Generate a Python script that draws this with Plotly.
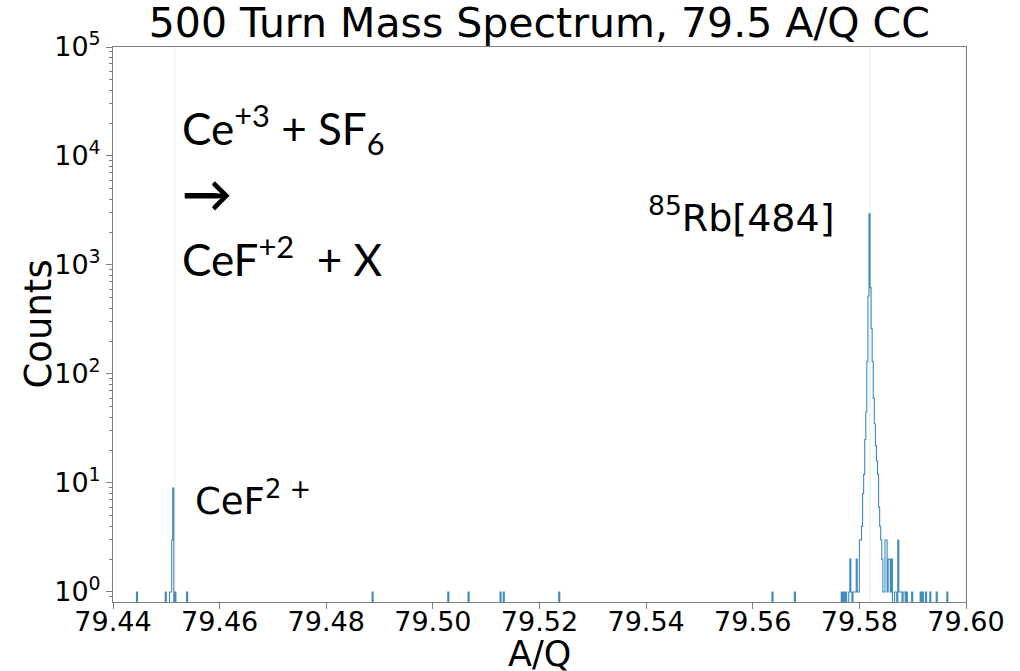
import numpy as np
import plotly.graph_objects as go

# Histogram binning (A/Q)
bin_lo = 79.44
bin_hi = 79.60
bin_width = 0.0002

# Non-empty bins: bin centre (A/Q) and counts
bin_centers = [
    79.4445, 79.4499, 79.4507, 79.4509, 79.4511, 79.4513, 79.4517, 79.4539,
    79.4887, 79.5029, 79.5067, 79.5127, 79.5133, 79.5237, 79.5637, 79.5679,
    79.5767, 79.5771, 79.5775, 79.5781, 79.5783, 79.5785, 79.5789, 79.5791,
    79.5793, 79.5795, 79.5797, 79.5799, 79.5801, 79.5803, 79.5805, 79.5807,
    79.5809, 79.5811, 79.5813, 79.5815, 79.5817, 79.5819, 79.5821, 79.5823,
    79.5825, 79.5827, 79.5829, 79.5831, 79.5833, 79.5835, 79.5837, 79.5839,
    79.5841, 79.5843, 79.5845, 79.5847, 79.5849, 79.5851, 79.5853, 79.5855,
    79.5857, 79.5859, 79.5861, 79.5867, 79.5869, 79.5873, 79.5875, 79.5877,
    79.5879, 79.5883, 79.5885, 79.5889, 79.5899, 79.5915, 79.5919, 79.5925,
    79.5933, 79.5945, 79.5965,
]
bin_counts = [
    1, 1, 1, 1, 3, 9, 1, 1,
    1, 1, 1, 1, 1, 1, 1, 1,
    1, 1, 1, 1, 2, 1, 1, 1,
    1, 2, 1, 1, 3, 3, 4, 8,
    12, 25, 45, 130, 520, 2950, 620, 260,
    130, 60, 35, 22, 16, 12, 6, 4,
    3, 2, 1, 1, 3, 3, 1, 2,
    2, 1, 2, 1, 1, 3, 1, 1,
    1, 1, 1, 1, 1, 1, 1, 1,
    1, 1, 1,
]

# Reference positions
cef_line = 79.4516
rb_line = 79.5820

y_tick_vals = [1, 10, 100, 1000, 10000, 100000]
y_tick_text = ["10<sup>0</sup>", "10<sup>1</sup>", "10<sup>2</sup>",
               "10<sup>3</sup>", "10<sup>4</sup>", "10<sup>5</sup>"]
x_tick_vals = [79.44, 79.46, 79.48, 79.50, 79.52, 79.54, 79.56, 79.58, 79.60]
x_tick_text = ["79.44", "79.46", "79.48", "79.50", "79.52", "79.54",
               "79.56", "79.58", "79.60"]

# Build full histogram (empty bins drop below the log axis floor)
n_bins = int(round((bin_hi - bin_lo) / bin_width))
edges = bin_lo + bin_width * np.arange(n_bins + 1)
counts = np.zeros(n_bins)
for c, n in zip(bin_centers, bin_counts):
    idx = int(np.floor((c - bin_lo) / bin_width))
    counts[idx] = n
step_y = np.where(counts > 0, counts, 1e-2)
step_y = np.append(step_y, step_y[-1])

minor_vals = [m * 10 ** e for e in range(-1, 5) for m in range(2, 10)]

FONT = "DejaVu Sans"
W, H = 1020, 671
L, R, T, B = 113, 54, 47, 69
fig = go.Figure()
fig.add_trace(go.Scatter(
    x=edges, y=step_y, mode="lines", line=dict(color="#1f77b4", width=1.1, shape="hv"),
    opacity=0.85, showlegend=False, hoverinfo="skip",
))

fig.add_shape(type="line", xref="x", yref="paper", x0=cef_line, x1=cef_line, y0=0, y1=1,
              line=dict(color="rgba(255,127,14,0.15)", width=1.2))
fig.add_shape(type="line", xref="x", yref="paper", x0=rb_line, x1=rb_line, y0=0, y1=1,
              line=dict(color="rgba(44,160,44,0.15)", width=1.2))

fig.update_layout(
    width=W, height=H,
    margin=dict(l=L, r=R, t=T, b=B, autoexpand=False),
    paper_bgcolor="white", plot_bgcolor="white",
    font=dict(family=FONT, color="black"),
    title=dict(text="500 Turn Mass Spectrum, 79.5 A/Q CC", x=0.5287, xanchor="center",
               y=1 - 23 / H, yref="container", yanchor="middle",
               font=dict(family=FONT, size=41, color="black")),
    xaxis=dict(range=[79.44, 79.60], tickvals=x_tick_vals, ticktext=x_tick_text,
               showgrid=False, zeroline=False, showline=True, mirror=True,
               linecolor="#7f7f7f", linewidth=1, ticks="outside", ticklen=6,
               tickcolor="#7f7f7f", tickfont=dict(size=27, family=FONT),
               ticklabelstandoff=-10, automargin=False),
    yaxis=dict(type="log", range=[-0.092, 5], tickvals=y_tick_vals, ticktext=y_tick_text,
               showgrid=False, zeroline=False, showline=True, mirror=True,
               linecolor="#7f7f7f", linewidth=1, ticks="outside", ticklen=6,
               tickcolor="#7f7f7f", tickfont=dict(size=27, family=FONT),
               minor=dict(tickvals=minor_vals, ticks="outside", ticklen=3,
                          tickcolor="#7f7f7f", showgrid=False),
               automargin=False),
)

# Axis titles
fig.add_annotation(text="A/Q", xref="paper", yref="paper", x=0.5, y=-(654 - (H - B)) / (H - T - B),
                   xanchor="center", yanchor="middle", showarrow=False,
                   font=dict(family=FONT, size=35, color="black"))
fig.add_annotation(text="Counts", xref="paper", yref="paper", x=-(L - 38) / (W - L - R), y=0.5,
                   xanchor="center", yanchor="middle", showarrow=False, textangle=-90,
                   font=dict(family=FONT, size=37, color="black"))

REACT = "Lato"
fig.add_annotation(text="Ce<sup>+3</sup> + SF<sub>6</sub>", xref="paper", yref="paper",
                   x=0.079, y=0.852, xanchor="left", yanchor="middle", showarrow=False,
                   font=dict(family=REACT, size=44, color="black"))
fig.add_annotation(text="<b>→</b>", xref="paper", yref="paper",
                   x=0.079, y=0.737, xanchor="left", yanchor="middle", showarrow=False,
                   font=dict(family=REACT, size=50, color="black"))
fig.add_annotation(text="CeF<sup>+2</sup>  + X", xref="paper", yref="paper",
                   x=0.079, y=0.622, xanchor="left", yanchor="middle", showarrow=False,
                   font=dict(family=REACT, size=44, color="black"))
fig.add_annotation(text="<sup>85</sup>Rb[484]", xref="paper", yref="paper",
                   x=0.7368, y=0.697, xanchor="center", yanchor="middle", showarrow=False,
                   font=dict(family=FONT, size=38, color="black"))
fig.add_annotation(text="CeF<sup>2 +</sup>", xref="paper", yref="paper",
                   x=0.0938, y=0.187, xanchor="left", yanchor="middle", showarrow=False,
                   font=dict(family=FONT, size=37, color="black"))

fig.write_html("out.html")
